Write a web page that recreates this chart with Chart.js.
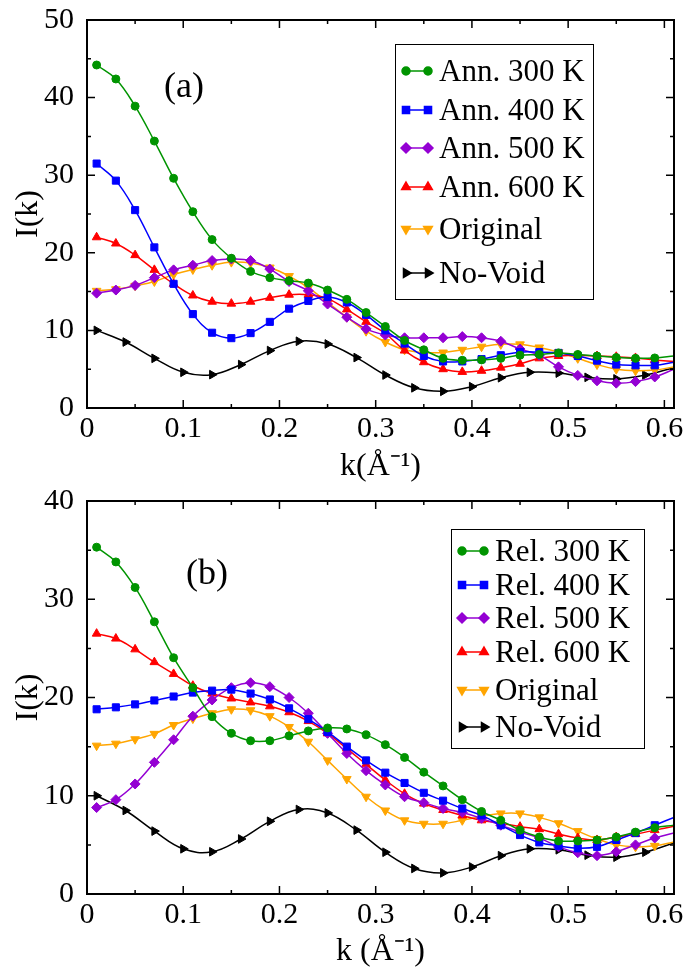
<!DOCTYPE html>
<html>
<head>
<meta charset="utf-8">
<script src="https://cdn.jsdelivr.net/npm/chart.js@4.4.0/dist/chart.umd.min.js"></script>
<style>
  html, body { margin: 0; padding: 0; background: #fff; }
  #wrap { position: relative; width: 689px; height: 972px; overflow: hidden; }
  .panel { position: absolute; left: 0; width: 689px; }
</style>
</head>
<body>
<div id="wrap">
  <div class="panel" style="top:0;height:490px"><canvas id="chartA"></canvas></div>
  <div class="panel" style="top:480px;height:492px"><canvas id="chartB"></canvas></div>
</div>
<script>
  // k grid of the simulated curves, and the coarser one of the No-Void curve
  const kFine = [0.01, 0.03, 0.05, 0.07, 0.09, 0.11, 0.13, 0.15, 0.17, 0.19, 0.21,
                 0.23, 0.25, 0.27, 0.29, 0.31, 0.33, 0.35, 0.37, 0.39, 0.41, 0.43,
                 0.45, 0.47, 0.49, 0.51, 0.53, 0.55, 0.57, 0.59, 0.61];
  const kVoid = [0.01, 0.04, 0.07, 0.10, 0.13, 0.16, 0.19, 0.22, 0.25, 0.28, 0.31,
                 0.34, 0.37, 0.40, 0.43, 0.46, 0.49, 0.52, 0.55, 0.58, 0.61];

  // ===== panel (a): annealed =====
  const ann300 = [44.2, 42.4, 38.9, 34.4, 29.6, 25.3, 21.7, 19.3, 17.6, 16.8, 16.4,
                  16.1, 15.2, 14.0, 12.3, 10.5, 8.7, 7.5, 6.4, 6.15, 6.2, 6.4,
                  6.8, 6.9, 7.1, 6.9, 6.7, 6.5, 6.4, 6.45, 6.7];
  const ann400 = [31.5, 29.3, 25.5, 20.7, 16.0, 12.1, 9.7, 9.0, 9.65, 11.1, 12.8,
                  13.8, 14.3, 13.6, 12.0, 10.0, 8.3, 6.7, 6.0, 6.0, 6.3, 6.8,
                  7.2, 7.2, 7.1, 6.7, 6.1, 5.6, 5.5, 5.5, 5.9];
  const ann500 = [14.8, 15.2, 15.8, 16.8, 17.8, 18.4, 19.0, 19.2, 19.0, 17.9, 16.3,
                  15.1, 13.4, 11.7, 10.2, 9.4, 9.05, 9.05, 9.05, 9.2, 9.05, 8.6,
                  7.6, 6.8, 5.3, 4.2, 3.5, 3.2, 3.4, 4.0, 5.0];
  const ann600 = [22.0, 21.2, 19.7, 17.8, 16.0, 14.5, 13.7, 13.45, 13.7, 14.2, 14.6,
                  14.6, 14.1, 12.7, 11.1, 9.6, 7.4, 5.9, 5.0, 4.65, 4.8, 5.2,
                  5.7, 6.4, 6.7, 6.8, 6.7, 6.6, 6.45, 6.2, 6.0];

  // ===== panel (b): relaxed =====
  const rel300 = [35.3, 33.8, 31.2, 27.7, 24.05, 21.0, 18.05, 16.35, 15.6, 15.6, 16.1,
                  16.6, 16.9, 16.8, 16.2, 15.2, 13.9, 12.4, 11.0, 9.6, 8.4, 7.5,
                  6.5, 5.8, 5.4, 5.4, 5.5, 5.8, 6.3, 6.75, 7.0];
  const rel400 = [18.8, 19.0, 19.3, 19.7, 20.1, 20.5, 20.7, 20.8, 20.4, 19.8, 18.9,
                  17.8, 16.5, 15.0, 13.6, 12.35, 11.3, 10.3, 9.5, 8.7, 8.0, 7.0,
                  6.0, 5.25, 4.9, 4.65, 4.8, 5.5, 6.2, 7.0, 7.8];
  const rel500 = [8.8, 9.6, 11.2, 13.4, 15.7, 18.1, 19.75, 21.0, 21.5, 21.1, 20.0,
                  18.4, 16.35, 14.3, 12.55, 11.1, 9.9, 9.3, 8.7, 8.3, 7.7, 7.0,
                  6.3, 5.7, 4.8, 4.2, 3.9, 4.3, 5.0, 5.7, 6.2];
  const rel600 = [26.5, 26.0, 24.9, 23.6, 22.4, 21.2, 20.4, 19.9, 19.5, 19.1, 18.5,
                  17.6, 16.35, 14.8, 13.2, 11.6, 10.2, 9.2, 8.55, 8.0, 7.5, 7.2,
                  6.85, 6.6, 6.1, 5.7, 5.5, 5.8, 6.1, 6.5, 6.9];

  // shared by both panels
  const original = [15.1, 15.3, 15.75, 16.3, 17.2, 17.85, 18.4, 18.8, 18.7, 18.1, 17.0,
                    15.5, 13.6, 11.7, 9.9, 8.5, 7.5, 7.15, 7.15, 7.5, 7.9, 8.2,
                    8.2, 7.8, 7.2, 6.4, 5.6, 5.0, 4.8, 4.9, 5.3];
  const noVoid = [10.0, 8.5, 6.4, 4.6, 4.3, 5.6, 7.4, 8.6, 8.25, 6.5, 4.25,
                  2.6, 2.15, 2.75, 3.9, 4.6, 4.5, 3.95, 3.75, 4.25, 5.2];

  const xTicks = [0, 0.1, 0.2, 0.3, 0.4, 0.5, 0.6];

  const SERIF = "'Liberation Serif', 'Times New Roman', serif";
  const GREEN = '#009400', BLUE = '#0000ff', VIOLET = '#9400d3',
        RED = '#ff0000', ORANGE = '#ffa500', BLACK = '#000000';

  const toXY = (ks, vals) => ks.map((k, i) => ({ x: k, y: vals[i] }));

  // one curve: spline line + markers, last point (at the frame) without marker
  function series(label, ks, vals, color, style, rot, r) {
    return {
      label: label,
      data: toXY(ks, vals),
      borderColor: color,
      backgroundColor: color,
      borderWidth: 1.5,
      tension: 0.4,
      pointStyle: style,
      pointRotation: rot,
      pointBorderWidth: 1,
      pointRadius: (ctx) => ctx.dataIndex === ks.length - 1 ? 0 : r,
      legendRadius: r
    };
  }

  // frame + inward ticks on all four sides
  const framePlugin = {
    id: 'frame',
    afterDatasetsDraw(chart, args, opts) {
      const { ctx, chartArea: a, scales: { x, y } } = chart;
      ctx.save();
      ctx.strokeStyle = '#000';
      ctx.lineWidth = 1.5;
      ctx.beginPath();
      opts.xMajor.forEach((v) => {
        const px = x.getPixelForValue(v);
        ctx.moveTo(px, a.bottom); ctx.lineTo(px, a.bottom - 8);
        ctx.moveTo(px, a.top); ctx.lineTo(px, a.top + 8);
        const mv = v + opts.xStep / 2;
        if (mv < x.max) {
          const mx = x.getPixelForValue(mv);
          ctx.moveTo(mx, a.bottom); ctx.lineTo(mx, a.bottom - 4);
          ctx.moveTo(mx, a.top); ctx.lineTo(mx, a.top + 4);
        }
      });
      for (let v = y.min; v <= y.max; v += opts.yStep / 2) {
        const py = y.getPixelForValue(v);
        const len = (v % opts.yStep === 0) ? 8 : 4;
        ctx.moveTo(a.left, py); ctx.lineTo(a.left + len, py);
        ctx.moveTo(a.right, py); ctx.lineTo(a.right - len, py);
      }
      ctx.stroke();
      ctx.lineWidth = 2;
      ctx.strokeRect(a.left, a.top, a.right - a.left, a.bottom - a.top);

      // panel tag
      ctx.fillStyle = '#000';
      ctx.font = '36px ' + SERIF;
      ctx.textAlign = 'center';
      ctx.textBaseline = 'middle';
      ctx.fillText(opts.tag, opts.tagX, opts.tagY);
      ctx.restore();
    }
  };

  // grace-style legend box: line with a marker at each end, then the label
  const boxLegend = {
    id: 'boxLegend',
    afterDatasetsDraw(chart, args, opts) {
      const ctx = chart.ctx;
      const b = opts.box;
      ctx.save();
      ctx.fillStyle = '#fff';
      ctx.fillRect(b.left, b.top, b.right - b.left, b.bottom - b.top);
      ctx.strokeStyle = '#000';
      ctx.lineWidth = 1;
      ctx.strokeRect(b.left + 0.5, b.top + 0.5, b.right - b.left, b.bottom - b.top);
      chart.data.datasets.forEach((ds, i) => {
        const yy = opts.rows[i];
        ctx.strokeStyle = ds.borderColor;
        ctx.lineWidth = 1.5;
        ctx.beginPath();
        ctx.moveTo(opts.x0, yy); ctx.lineTo(opts.x1, yy);
        ctx.stroke();
        ctx.fillStyle = ds.backgroundColor;
        const p = { pointStyle: ds.pointStyle, rotation: ds.pointRotation, radius: ds.legendRadius, borderWidth: 1 };
        Chart.helpers.drawPoint(ctx, p, opts.x0, yy);
        Chart.helpers.drawPoint(ctx, p, opts.x1, yy);
        ctx.fillStyle = '#000';
        ctx.font = '31px ' + SERIF;
        ctx.textAlign = 'left';
        ctx.textBaseline = 'middle';
        ctx.fillText(ds.label, opts.textX, yy + 2);
      });
      ctx.restore();
    }
  };

  function makeChart(id, datasets, cfg) {
    return new Chart(document.getElementById(id), {
      type: 'line',
      data: { datasets: datasets },
      plugins: [framePlugin, boxLegend],
      options: {
        responsive: true,
        maintainAspectRatio: false,
        animation: false,
        layout: { padding: { top: cfg.padTop, right: 15, left: 0, bottom: 0 } },
        scales: {
          x: {
            type: 'linear', min: 0, max: 0.61,
            grid: { display: false }, border: { display: false },
            afterBuildTicks: (s) => { s.ticks = xTicks.map(v => ({ value: v })); },
            ticks: {
              color: '#000', padding: -2, maxRotation: 0, autoSkip: false,
              font: { family: SERIF, size: 30, lineHeight: 1 },
              callback: (v) => String(Math.round(v * 10) / 10)
            },
            title: {
              display: true, text: cfg.xTitle, color: '#000',
              font: { family: SERIF, size: 32 },
              padding: { top: 0, bottom: cfg.titlePad }
            },
            afterFit: (s) => { s.height = cfg.xHeight; }
          },
          y: {
            type: 'linear', min: 0, max: cfg.yMax,
            grid: { display: false }, border: { display: false },
            ticks: {
              stepSize: 10, color: '#000', padding: 5,
              font: { family: SERIF, size: 30, lineHeight: 1 }
            },
            title: {
              display: true, text: 'I(k)', color: '#000',
              font: { family: SERIF, size: 32 },
              padding: { top: 9, bottom: 0 }
            },
            afterFit: (s) => { s.width = 87; }
          }
        },
        plugins: {
          legend: { display: false },
          tooltip: { enabled: false },
          frame: { xMajor: xTicks, xStep: 0.1, yStep: 10, tag: cfg.tag, tagX: cfg.tagX, tagY: cfg.tagY },
          boxLegend: cfg.legend
        }
      }
    });
  }

  makeChart('chartA', [
    series('Ann. 300 K', kFine, ann300, GREEN, 'circle', 0, 4),
    series('Ann. 400 K', kFine, ann400, BLUE, 'rect', 0, 5),
    series('Ann. 500 K', kFine, ann500, VIOLET, 'rectRot', 0, 5),
    series('Ann. 600 K', kFine, ann600, RED, 'triangle', 0, 5),
    series('Original', kFine, original, ORANGE, 'triangle', 180, 5),
    series('No-Void', kVoid, noVoid, BLACK, 'triangle', 90, 5)
  ], {
    yMax: 50, padTop: 18, xHeight: 82, titlePad: 4, xTitle: 'k(Å⁻¹)',
    tag: '(a)', tagX: 184, tagY: 88,
    legend: { box: { left: 395, top: 44, right: 593, bottom: 299 },
              rows: [71, 110, 148, 187, 229, 273], x0: 406, x1: 428, textX: 439 }
  });

  makeChart('chartB', [
    series('Rel. 300 K', kFine, rel300, GREEN, 'circle', 0, 4),
    series('Rel. 400 K', kFine, rel400, BLUE, 'rect', 0, 5),
    series('Rel. 500 K', kFine, rel500, VIOLET, 'rectRot', 0, 5),
    series('Rel. 600 K', kFine, rel600, RED, 'triangle', 0, 5),
    series('Original', kFine, original, ORANGE, 'triangle', 180, 5),
    series('No-Void', kVoid, noVoid, BLACK, 'triangle', 90, 5)
  ], {
    yMax: 40, padTop: 21, xHeight: 78, titlePad: 1, xTitle: 'k (Å⁻¹)',
    tag: '(b)', tagX: 207, tagY: 95,
    legend: { box: { left: 451, top: 49, right: 644, bottom: 268 },
              rows: [71, 105, 138, 172, 210, 247], x0: 462, x1: 484, textX: 495 }
  });
</script>
</body>
</html>
